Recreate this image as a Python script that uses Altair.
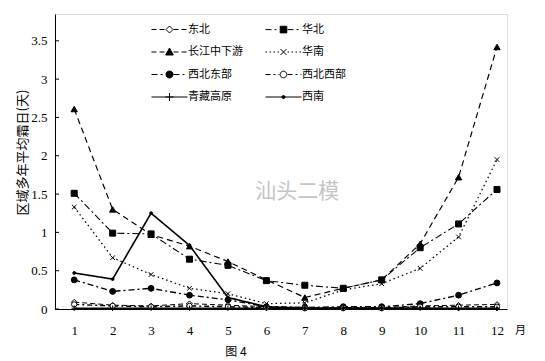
import altair as alt
import pandas as pd

months = list(range(1, 13))
regions = ["东北", "华北", "长江中下游", "华南", "西北东部", "西北西部", "青藏高原", "西南"]

dongbei = [0.09, 0.05, 0.04, 0.07, 0.05, 0.03, 0.02, 0.02, 0.02, 0.04, 0.05, 0.06]
huabei = [1.51, 0.99, 0.98, 0.65, 0.57, 0.37, 0.31, 0.27, 0.38, 0.80, 1.11, 1.56]
changjiang = [2.61, 1.30, 0.97, 0.82, 0.62, 0.38, 0.15, 0.27, 0.38, 0.85, 1.72, 3.42]
huanan = [1.33, 0.67, 0.45, 0.27, 0.20, 0.07, 0.08, 0.25, 0.33, 0.53, 0.94, 1.95]
xibei_dong = [0.38, 0.23, 0.27, 0.18, 0.12, 0.03, 0.02, 0.03, 0.03, 0.07, 0.18, 0.34]
xibei_xi = [0.06, 0.04, 0.03, 0.04, 0.03, 0.02, 0.01, 0.01, 0.01, 0.03, 0.03, 0.03]
qingzang = [0.01, 0.01, 0.01, 0.01, 0.01, 0.01, 0.01, 0.01, 0.01, 0.01, 0.01, 0.01]
xinan = [0.47, 0.39, 1.25, 0.83, 0.15, 0.03, 0.01, 0.01, 0.01, 0.01, 0.00, 0.00]

series = [dongbei, huabei, changjiang, huanan, xibei_dong, xibei_xi, qingzang, xinan]
y_ticks = [0, 0.5, 1, 1.5, 2, 2.5, 3, 3.5]

rows = []
for name, vals in zip(regions, series):
    for m, v in zip(months, vals):
        rows.append({"month": m, "value": v, "region": name})
df = pd.DataFrame(rows)

CN = "Noto Sans CJK SC"
SERIF = "Liberation Serif"

# styles
dashes = [[5, 3], [7, 3, 2, 3], [6, 4], [1.5, 3], [6, 3, 2, 3], [5, 3, 2, 3], [1, 0], [1, 0]]
widths = [1, 1.6, 1.6, 1, 1, 1, 1, 1]
xpath = "M-1,-1L1,1M-1,1L1,-1"
ppath = "M-1,0L1,0M0,-1L0,1"
pt_shapes = ["diamond", "square", "triangle-up", xpath, "circle", "circle", ppath, "circle"]
pt_fills = ["white", "black", "black", "transparent", "black", "white", "transparent", "black"]
pt_sizes = [30, 36, 40, 22, 34, 28, 30, 8]


def circ(r):
    return f"M{r},0A{r},{r},0,1,1,{-r},0A{r},{r},0,1,1,{r},0Z"


def segs(pattern, start, end):
    out = []
    x = start
    i = 0
    while x < end:
        L = pattern[i % len(pattern)]
        if i % 2 == 0:
            x2 = min(x + L, end)
            out.append(f"M{x:g},0L{x2:g},0")
        x += L
        i += 1
    return "".join(out)


def leg_path(pattern, marker, gap):
    return segs(pattern, -18, -gap) + segs(pattern, gap, 18) + marker


markers = [
    "M0,-3.5L3.5,0L0,3.5L-3.5,0Z",
    "M-3.3,-3.3L3.3,-3.3L3.3,3.3L-3.3,3.3Z",
    "M0,-4L3.8,3L-3.8,3Z",
    "M-3,-3L3,3M-3,3L3,-3",
    circ(3.5),
    circ(3.3),
    "M-4,0L4,0M0,-4L0,4",
    circ(1.6),
]
leg_patterns = [[5, 3], [6, 3, 2, 3], [5, 3], [1.5, 2.5], [6, 3, 2, 3], [5, 3, 2, 3], [40, 0], [40, 0]]
gaps = [4, 4, 4, 4, 4, 4, 0.1, 0.1]
leg_shapes = [leg_path(p, mk, g) for p, mk, g in zip(leg_patterns, markers, gaps)]

# legend fills columns first: reorder so that it reads row by row like the reference
leg_order = [0, 2, 4, 6, 1, 3, 5, 7]
leg_domain = [regions[i] for i in leg_order]
leg_shape_range = [leg_shapes[i] for i in leg_order]
leg_fill_range = [pt_fills[i] for i in leg_order]

xs = alt.Scale(domain=[0.5, 12.26], nice=False, zero=False)
ys = alt.Scale(domain=[0, 3.85], nice=False)

xaxis = alt.Axis(values=months, title="月", titleX=465, titleY=21, titleAngle=0,
                 titleAlign="center", titleBaseline="middle", titleFont=CN,
                 titleFontSize=11, titleFontWeight="normal", tickSize=0, labelPadding=15,
                 labelFont=SERIF, labelFontSize=13, grid=False, domainColor="black")
yaxis = alt.Axis(values=y_ticks, title="区域多年平均霜日(天)", titleFont=CN, titleFontSize=13,
                 titleFontWeight="normal", titlePadding=1, titleY=138, tickSize=0, labelPadding=8,
                 labelFont=SERIF, labelFontSize=13, grid=False, domainColor="black",
                 labelExpr="datum.value")

base = alt.Chart(df)

lines = base.mark_line(color="black").encode(
    x=alt.X("month:Q", scale=xs, axis=xaxis),
    y=alt.Y("value:Q", scale=ys, axis=yaxis),
    detail="region:N",
    strokeDash=alt.StrokeDash("region:N", scale=alt.Scale(domain=regions, range=dashes), legend=None),
    strokeWidth=alt.StrokeWidth("region:N", scale=alt.Scale(domain=regions, range=widths), legend=None),
)

point_layers = []
for name, shp, fl, sz in zip(regions, pt_shapes, pt_fills, pt_sizes):
    point_layers.append(
        base.transform_filter(alt.datum.region == name).mark_point(
            shape=shp, fill=fl, stroke="black", strokeWidth=1, size=sz, opacity=1, filled=False
        ).encode(x=alt.X("month:Q", scale=xs), y=alt.Y("value:Q", scale=ys))
    )

legend_layer = base.transform_filter("false").mark_point(strokeWidth=1, opacity=1).encode(
    x=alt.X("month:Q", scale=xs),
    y=alt.Y("value:Q", scale=ys),
    shape=alt.Shape("region:N", scale=alt.Scale(domain=leg_domain, range=leg_shape_range),
                    legend=alt.Legend(title=None, orient="none", legendX=109, legendY=10,
                                      columns=2, symbolSize=4, labelOffset=13,
                                      columnPadding=20, rowPadding=10.5, labelFont=CN,
                                      labelFontSize=11, symbolStrokeWidth=1,
                                      labelColor="black")),
    fill=alt.Fill("region:N", scale=alt.Scale(domain=leg_domain, range=leg_fill_range),
                  legend=alt.Legend(title=None)),
    stroke=alt.Stroke("region:N", scale=alt.Scale(domain=leg_domain, range=["black"] * 8),
                      legend=alt.Legend(title=None)),
)

tick_df = pd.DataFrame({"t": y_ticks})
ticks = alt.Chart(tick_df).mark_rule(color="black").encode(
    y=alt.Y("t:Q", scale=ys), x=alt.value(0), x2=alt.value(4)
)

wm_df = pd.DataFrame({"x": [6.8], "y": [1.53], "t": ["汕头二模"]})
watermark = alt.Chart(wm_df).mark_text(font=CN, fontSize=21, color="#c4c4c4").encode(
    x=alt.X("x:Q", scale=xs), y=alt.Y("y:Q", scale=ys), text="t:N"
)

chart = alt.layer(lines, *point_layers, legend_layer, ticks, watermark).properties(
    width=452, height=295,
    autosize=alt.AutoSizeParams(type="none"),
    padding={"left": 47, "top": 6, "right": 30, "bottom": 55},
    title=alt.TitleParams("图 4", orient="bottom", anchor="middle", dx=-45, offset=10,
                          font=CN, fontSize=12, fontWeight="normal", color="black"),
).configure_view(stroke=None).configure(background="white")

chart.save("out.html", embed_options={"renderer": "svg", "actions": False})
